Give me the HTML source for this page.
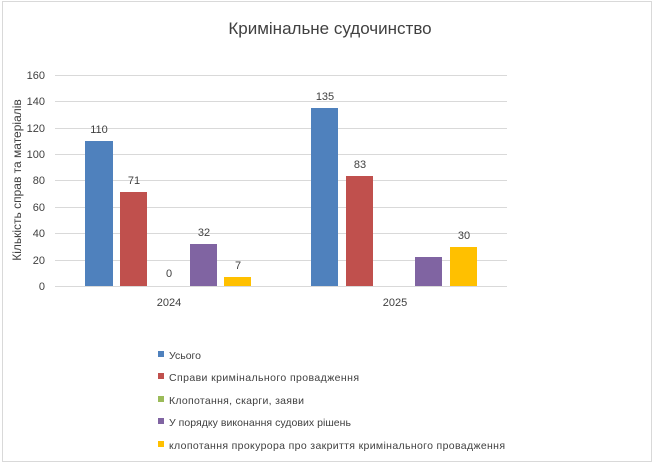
<!DOCTYPE html>
<html><head><meta charset="utf-8"><style>body{margin:0;background:#fff}svg{display:block}text{font-family:"Liberation Sans",sans-serif;fill:#404040}</style></head>
<body>
<svg width="654" height="470" xmlns="http://www.w3.org/2000/svg">
<rect x="2.5" y="1.5" width="649" height="460" fill="#fff" stroke="#d9d9d9"/>
<text x="330" y="34" font-size="17" text-anchor="middle">Кримінальне судочинство</text>
<g stroke="#d9d9d9" stroke-width="1">
<line x1="55" x2="507" y1="75.5" y2="75.5"/><line x1="55" x2="507" y1="101.5" y2="101.5"/>
<line x1="55" x2="507" y1="128.5" y2="128.5"/><line x1="55" x2="507" y1="154.5" y2="154.5"/>
<line x1="55" x2="507" y1="180.5" y2="180.5"/><line x1="55" x2="507" y1="207.5" y2="207.5"/>
<line x1="55" x2="507" y1="233.5" y2="233.5"/><line x1="55" x2="507" y1="260.5" y2="260.5"/>
<line x1="55" x2="507" y1="286.5" y2="286.5"/>
</g>
<g font-size="11" text-anchor="end">
<text x="45" y="79">160</text><text x="45" y="105">140</text><text x="45" y="132">120</text>
<text x="45" y="158">100</text><text x="45" y="184">80</text><text x="45" y="211">60</text>
<text x="45" y="237">40</text><text x="45" y="264">20</text><text x="45" y="290">0</text>
</g>
<text transform="translate(21,180) rotate(-90)" font-size="12" text-anchor="middle">Кількість справ та матеріалів</text>
<rect x="85" y="141" width="28" height="145" fill="#4f81bd"/>
<rect x="120" y="192" width="27" height="94" fill="#c0504d"/>
<rect x="190" y="244" width="27" height="42" fill="#8064a2"/>
<rect x="224" y="277" width="27" height="9" fill="#ffc000"/>
<rect x="311" y="108" width="27" height="178" fill="#4f81bd"/>
<rect x="346" y="176" width="27" height="110" fill="#c0504d"/>
<rect x="415" y="257" width="27" height="29" fill="#8064a2"/>
<rect x="450" y="247" width="27" height="39" fill="#ffc000"/>
<g font-size="11" text-anchor="middle">
<text x="99" y="133">110</text><text x="134" y="184">71</text><text x="169" y="277">0</text>
<text x="204" y="236">32</text><text x="238" y="269">7</text>
<text x="325" y="100">135</text><text x="360" y="168">83</text><text x="464" y="239">30</text>
<text x="169" y="306">2024</text><text x="395" y="306">2025</text>
</g>
<g font-size="10.5">
<rect x="158" y="351" width="6" height="6" fill="#4f81bd"/><text x="169" y="359">Усього</text>
<rect x="158" y="373" width="6" height="6" fill="#c0504d"/><text x="169" y="381" textLength="190">Справи кримінального провадження</text>
<rect x="158" y="396" width="6" height="6" fill="#9bbb59"/><text x="169" y="404" textLength="135">Клопотання, скарги, заяви</text>
<rect x="158" y="418" width="6" height="6" fill="#8064a2"/><text x="169" y="426" textLength="182">У порядку виконання судових рішень</text>
<rect x="158" y="441" width="6" height="6" fill="#ffc000"/><text x="169" y="449" textLength="336">клопотання прокурора про закриття кримінального провадження</text>
</g>
</svg>
</body></html>
